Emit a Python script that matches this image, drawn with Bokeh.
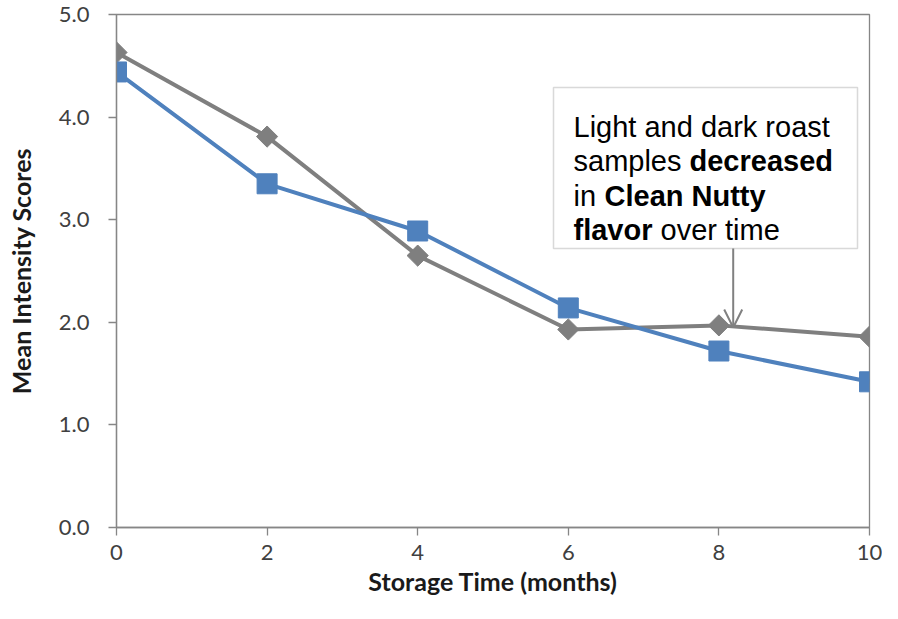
from bokeh.plotting import figure
from bokeh.models import Range1d, FixedTicker, BoxAnnotation, Label, Arrow, OpenHead, NumeralTickFormatter
from bokeh.embed import file_html
from bokeh.resources import INLINE

# ---- data ----
months = [0, 2, 4, 6, 8, 10]
light_roast = [4.44, 3.35, 2.89, 2.14, 1.72, 1.42]   # blue squares
dark_roast = [4.63, 3.81, 2.65, 1.93, 1.97, 1.86]    # gray diamonds
x_ticks = [0, 2, 4, 6, 8, 10]
y_ticks = [0, 1, 2, 3, 4, 5]

BLUE = "#4F81BD"
GRAY = "#7F7F7F"
AXIS = "#868686"

W, H = 882, 603
BL, BR, BT, BB = 116, 13, 14, 76
p = figure(width=W, height=H, output_backend="svg", toolbar_location=None,
           x_range=Range1d(0, 10), y_range=Range1d(0, 5),
           min_border_left=BL, min_border_right=BR, min_border_top=BT, min_border_bottom=BB)
p.grid.visible = False
p.outline_line_color = AXIS
p.outline_line_width = 1.3
p.background_fill_color = "white"
p.border_fill_color = "white"

# pixel -> data helpers for the callout (frame of this figure)
FX0, FX1, FY0, FY1 = BL, W - BR, BT, H - BB
def dx(px):
    return (px - FX0) / (FX1 - FX0) * 10
def dy(py):
    return (FY1 - py) / (FY1 - FY0) * 5

for ax in (p.xaxis[0], p.yaxis[0]):
    ax.axis_line_color = AXIS
    ax.axis_line_width = 1.3
    ax.major_tick_line_color = AXIS
    ax.major_tick_line_width = 1.3
    ax.major_tick_in = 0
    ax.major_tick_out = 8
    ax.minor_tick_line_color = None
    ax.major_label_text_font = "Lato"
    ax.major_label_text_font_size = "22px"
    ax.major_label_text_color = "#404040"
    ax.axis_label_text_font = "Lato"
    ax.axis_label_text_font_style = "bold"
    ax.axis_label_text_color = "#1a1a1a"
    ax.axis_label_text_font_size = "25px"

p.xaxis.ticker = FixedTicker(ticks=x_ticks)
p.yaxis.ticker = FixedTicker(ticks=y_ticks)
p.yaxis.formatter = NumeralTickFormatter(format="0.0")
p.xaxis.major_label_standoff = 9
p.yaxis.major_label_standoff = 19
p.xaxis.axis_label = "Storage Time (months)"
p.yaxis.axis_label = "Mean Intensity Scores"
p.xaxis.axis_label_standoff = 3
p.yaxis.axis_label_standoff = 20

p.line(months, dark_roast, line_color=GRAY, line_width=4)
p.scatter(months, dark_roast, marker="square", angle=0.785398, size=15,
          fill_color=GRAY, line_color=GRAY)
p.line(months, light_roast, line_color=BLUE, line_width=4)
p.scatter(months, light_roast, marker="square", size=20,
          fill_color=BLUE, line_color=BLUE)

# callout box and arrow (arrow points just right of the 8-month dark roast point)
p.add_layout(BoxAnnotation(left=dx(553), right=dx(857), top=dy(87), bottom=dy(248),
                           fill_color="white", fill_alpha=1.0,
                           line_color="#808080", line_width=1.5))
arrow_x = 8.19
p.add_layout(Arrow(x_start=arrow_x, y_start=dy(248), x_end=arrow_x, y_end=1.95,
                   line_color="#808080", line_width=2,
                   end=OpenHead(size=18, line_color="#808080", line_width=2)))

segments = [
    ("Light and dark roast", 573, 126, "normal"),
    ("samples", 573, 160.5, "normal"),
    ("decreased", 689, 160.5, "bold"),
    ("in", 573, 195, "normal"),
    ("Clean Nutty", 604, 195, "bold"),
    ("flavor", 573, 229.5, "bold"),
    ("over time", 660, 229.5, "normal"),
]
for txt, px, py, style in segments:
    p.add_layout(Label(x=dx(px), y=dy(py), text=txt, text_font="Liberation Sans",
                       text_font_size="29px", text_font_style=style,
                       text_color="black", text_baseline="alphabetic", text_align="left"))

open("out.html", "w").write(file_html(p, INLINE))
